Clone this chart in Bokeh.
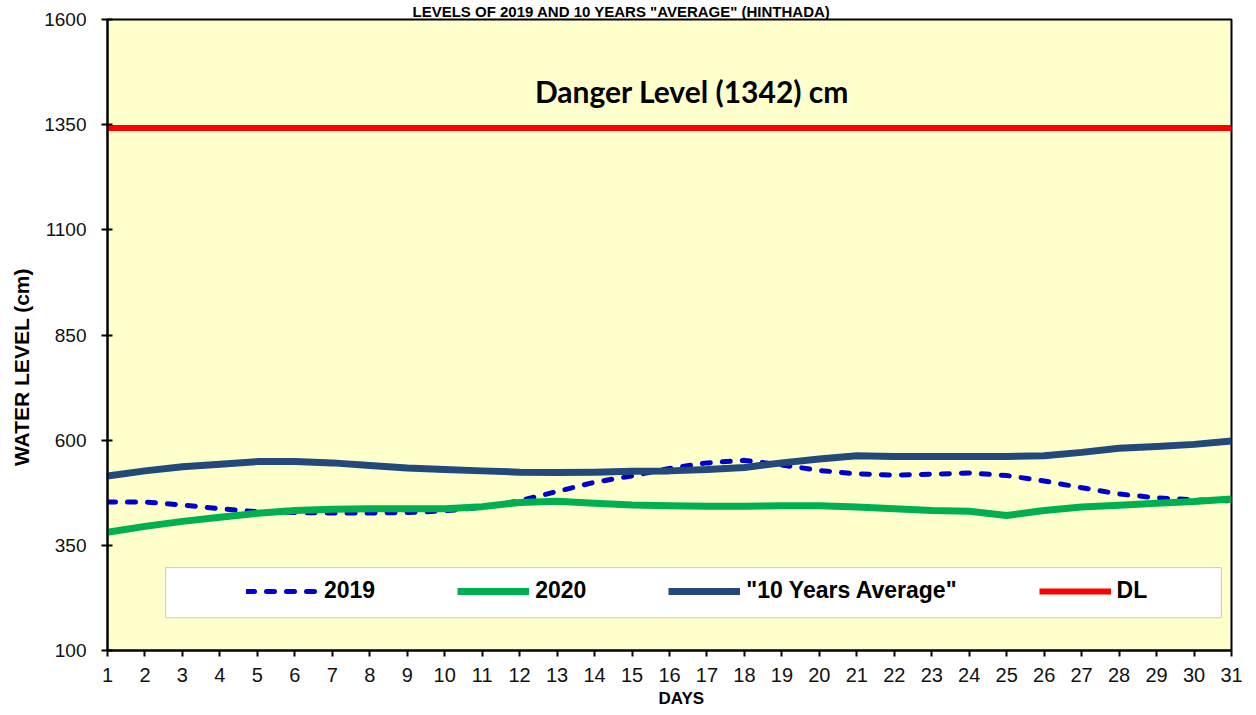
from bokeh.plotting import figure
from bokeh.models import Range1d, Label, BoxAnnotation, Legend, LegendItem, FixedTicker
from bokeh.embed import file_html
from bokeh.resources import INLINE

days = list(range(1, 32))
level_2019 = [453, 453, 446, 437, 430, 428, 427, 427, 428, 432, 440, 456, 478, 500, 515, 533,
              546, 552, 541, 528, 520, 517, 519, 522, 516, 503, 487, 472, 463, 458, 456]
level_2020 = [381, 395, 407, 417, 426, 433, 436, 437, 437, 437, 442, 452, 455, 450, 446, 444,
              443, 443, 444, 444, 441, 437, 433, 431, 421, 433, 441, 445, 450, 454, 460]
avg_10yr = [515, 527, 537, 543, 549, 549, 546, 540, 534, 530, 527, 524, 523, 524, 526, 527,
            530, 535, 546, 555, 563, 561, 561, 561, 561, 563, 571, 581, 585, 590, 598]
danger = [1342] * 31
y_ticks = [100, 350, 600, 850, 1100, 1350, 1600]

FONT = "Liberation Sans"
NB = "\u00a0"

p = figure(width=1248, height=715, output_backend="svg", toolbar_location=None,
           title='LEVELS OF 2019 AND 10 YEARS "AVERAGE" (HINTHADA)',
           x_range=Range1d(1, 31), y_range=Range1d(100, 1600),
           min_border_left=107, min_border_right=17, min_border_top=17, min_border_bottom=65)

p.title.text_font = FONT
p.title.text_font_size = "15px"
p.title.text_font_style = "bold"
p.title.text_color = "black"
p.title.align = "left"
p.title.offset = 305
p.title.standoff = 0

p.background_fill_color = "#FFFFCC"
p.border_fill_color = "white"
p.outline_line_color = "black"
p.outline_line_width = 2
p.xgrid.visible = False
p.ygrid.visible = False

p.xaxis.ticker = FixedTicker(ticks=days)
p.yaxis.ticker = FixedTicker(ticks=y_ticks)
for ax in (p.xaxis[0], p.yaxis[0]):
    ax.axis_line_color = "black"
    ax.axis_line_width = 2
    ax.major_tick_line_color = "black"
    ax.major_tick_line_width = 2
    ax.minor_tick_line_color = None
    ax.major_label_text_font = FONT
    ax.major_label_text_color = "#111111"
    ax.axis_label_text_font = FONT
    ax.axis_label_text_font_style = "bold"
    ax.axis_label_text_color = "black"
p.xaxis.major_label_text_font_size = "20px"
p.yaxis.major_label_text_font_size = "19px"
p.xaxis.major_tick_in = 0
p.xaxis.major_tick_out = 6
p.xaxis.major_label_standoff = 11
p.yaxis.major_tick_in = 5
p.yaxis.major_tick_out = 6
p.yaxis.major_label_standoff = 15

p.xaxis.axis_label = NB * 5 + "DAYS"
p.xaxis.axis_label_text_font_size = "17px"
p.xaxis.axis_label_standoff = 4

p.yaxis.axis_label = "WATER LEVEL (cm)" + NB * 11
p.yaxis.axis_label_text_font_size = "21px"
p.yaxis.axis_label_standoff = 8

r2019 = p.line(days, level_2019, line_color="#0000CC", line_width=5, line_dash="8 12",
               line_cap="round", line_join="round")
r2020 = p.line(days, level_2020, line_color="#00B050", line_width=7, line_join="round")
ravg = p.line(days, avg_10yr, line_color="#23497A", line_width=7, line_join="round")
rdl = p.line(days, danger, line_color="#FF0000", line_width=6)

# legend box
p.add_layout(BoxAnnotation(left=2.55, right=30.73, bottom=178, top=297,
                           fill_color="white", fill_alpha=1, line_color="#555555", line_width=1,
                           level="overlay"))
legend = Legend(items=[LegendItem(label="2019", renderers=[r2019]),
                       LegendItem(label="2020", renderers=[r2020]),
                       LegendItem(label='"10 Years Average"', renderers=[ravg]),
                       LegendItem(label="DL", renderers=[rdl])],
                orientation="horizontal", location=(139, 46), padding=0, margin=0,
                glyph_width=72, glyph_height=20, label_standoff=6, spacing=82,
                background_fill_alpha=0, border_line_color=None,
                label_text_font=FONT, label_text_font_size="23px", label_text_font_style="bold",
                label_text_color="black")
p.add_layout(legend, "center")

p.add_layout(Label(x=16.6, y=1429, text="Danger Level (1342) cm", text_font="Lato",
                   text_font_size="30px", text_font_style="bold", text_color="black",
                   text_align="center", text_baseline="middle"))

open("out.html", "w").write(file_html(p, INLINE))
